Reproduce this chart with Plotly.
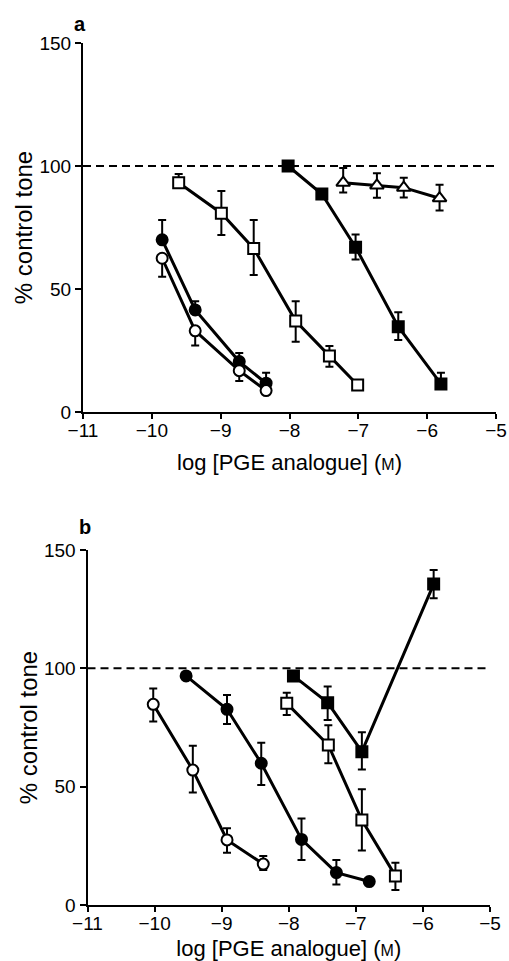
import plotly.graph_objects as go

# ---------------- data ----------------
CONTROL = 100
X_TICKS = [-11, -10, -9, -8, -7, -6, -5]
Y_TICKS = [0, 50, 100, 150]

# Panel a
a_fc_x = [-9.85, -9.37, -8.73, -8.34]
a_fc_y = [70, 41.5, 20.5, 11.7]
a_fc_up = [8, 3.5, 3.5, 4.3]
a_fc_dn = [0, 0, 0, 0]

a_oc_x = [-9.85, -9.37, -8.73, -8.34]
a_oc_y = [62.5, 33, 16.8, 8.7]
a_oc_up = [0, 0, 0, 0]
a_oc_dn = [7.5, 6, 4.2, 0]

a_os_x = [-9.61, -8.99, -8.52, -7.91, -7.42, -7.01]
a_os_y = [93.2, 80.8, 66.5, 37, 22.8, 11]
a_os_up = [3.5, 9, 11.5, 8, 4, 0]
a_os_dn = [0, 8.8, 10.8, 8.4, 4.4, 0]

a_fs_x = [-8.02, -7.53, -7.04, -6.42, -5.8]
a_fs_y = [100, 88.6, 67, 34.7, 11.4]
a_fs_up = [0, 0, 5.2, 5.8, 4.6]
a_fs_dn = [0, 0, 5, 5.4, 1.5]

a_tr_x = [-7.22, -6.73, -6.34, -5.82]
a_tr_y = [93.2, 92.1, 91.2, 86.9]
a_tr_up = [6, 5, 4, 5.5]
a_tr_dn = [4, 5, 4, 5]

# Panel b
b_oc_x = [-10.02, -9.43, -8.92, -8.38]
b_oc_y = [84.8, 57, 27.5, 17.3]
b_oc_up = [6.7, 10.3, 4.9, 3.4]
b_oc_dn = [7.3, 9.5, 5.4, 2.5]

b_fc_x = [-9.53, -8.92, -8.41, -7.81, -7.29, -6.8]
b_fc_y = [96.8, 82.7, 59.9, 27.7, 13.7, 9.9]
b_fc_up = [0, 6, 8.7, 8.9, 5.3, 0]
b_fc_dn = [0, 6.2, 9.2, 8.7, 5, 0]

b_os_x = [-8.03, -7.41, -6.91, -6.41]
b_os_y = [85.2, 67.6, 35.9, 12.3]
b_os_up = [4.5, 8.4, 13, 5.6]
b_os_dn = [4.9, 7.7, 12.9, 6]

b_fs_x = [-7.93, -7.42, -6.91, -5.84]
b_fs_y = [96.8, 85.5, 64.8, 135.6]
b_fs_up = [0, 6.8, 8.2, 5.9]
b_fs_dn = [0, 7.3, 7.5, 6]

# ---------------- figure ----------------
FONT = "Liberation Sans, Arial, Helvetica, sans-serif"
FW, FH = 509, 961


def fx(p):
    return p / FW


def fy(p):
    return 1 - p / FH


fig = go.Figure()


def add_series(x, y, up, dn, symbol, fill, xa, ya, size=11):
    fig.add_trace(go.Scatter(
        x=x, y=y, mode="lines+markers",
        xaxis=xa, yaxis=ya,
        line=dict(color="black", width=3),
        marker=dict(symbol=symbol, size=size, color=fill,
                    line=dict(color="black", width=2)),
        error_y=dict(type="data", symmetric=False, array=up, arrayminus=dn,
                     color="black", thickness=2, width=4),
        showlegend=False, cliponaxis=False,
    ))


# panel a (x, y)
add_series(a_fc_x, a_fc_y, a_fc_up, a_fc_dn, "circle", "black", "x", "y")
add_series(a_oc_x, a_oc_y, a_oc_up, a_oc_dn, "circle", "white", "x", "y")
add_series(a_os_x, a_os_y, a_os_up, a_os_dn, "square", "white", "x", "y")
add_series(a_fs_x, a_fs_y, a_fs_up, a_fs_dn, "square", "black", "x", "y")
add_series(a_tr_x, a_tr_y, a_tr_up, a_tr_dn, "triangle-up", "white", "x", "y", size=12)

# panel b (x2, y2)
add_series(b_oc_x, b_oc_y, b_oc_up, b_oc_dn, "circle", "white", "x2", "y2")
add_series(b_fc_x, b_fc_y, b_fc_up, b_fc_dn, "circle", "black", "x2", "y2")
add_series(b_os_x, b_os_y, b_os_up, b_os_dn, "square", "white", "x2", "y2")
add_series(b_fs_x, b_fs_y, b_fs_up, b_fs_dn, "square", "black", "x2", "y2")

xtitle = "log [PGE analogue] (<span style='font-size:16px'>M</span>)"
common_x = dict(range=[X_TICKS[0], X_TICKS[-1]], tickvals=X_TICKS,
                showline=True, linewidth=2, linecolor="black",
                ticks="outside", ticklen=5, tickwidth=2, tickcolor="black",
                showgrid=False, zeroline=False, automargin=False,
                ticklabeloverflow="allow", ticklabelstandoff=-5,
                tickfont=dict(family=FONT, size=19, color="black"))
common_y = dict(range=[Y_TICKS[0], Y_TICKS[-1]], tickvals=Y_TICKS,
                showline=True, linewidth=2, linecolor="black",
                ticks="outside", ticklen=6, tickwidth=2, tickcolor="black",
                showgrid=False, zeroline=False, automargin=False,
                tickfont=dict(family=FONT, size=19, color="black"))

fig.update_layout(
    width=FW, height=FH,
    margin=dict(l=0, r=0, t=0, b=0),
    paper_bgcolor="white", plot_bgcolor="white",
    font=dict(family=FONT, color="black"),
    xaxis=dict(domain=[fx(83), fx(496)], anchor="y",
               title=dict(text=xtitle, font=dict(size=22)),
               **common_x),
    yaxis=dict(domain=[fy(412), fy(43)], anchor="x",
               title=dict(text="% control tone", font=dict(size=24), standoff=0),
               **common_y),
    xaxis2=dict(domain=[fx(87.5), fx(490)], anchor="y2",
                title=dict(text=xtitle, font=dict(size=22)),
                **common_x),
    yaxis2=dict(domain=[fy(905), fy(550)], anchor="x2",
                title=dict(text="% control tone", font=dict(size=24), standoff=0),
                **common_y),
    shapes=[
        dict(type="line", xref="x", yref="y", x0=X_TICKS[0], x1=X_TICKS[-1],
             y0=CONTROL, y1=CONTROL, line=dict(color="black", width=2, dash="8px,5px"),
             layer="below"),
        dict(type="line", xref="x2", yref="y2", x0=X_TICKS[0], x1=X_TICKS[-1],
             y0=CONTROL, y1=CONTROL, line=dict(color="black", width=2, dash="8px,5px"),
             layer="below"),
    ],
    annotations=[
        dict(text="<b>a</b>", xref="paper", yref="paper", x=fx(80), y=fy(24),
             xanchor="center", yanchor="middle",
             showarrow=False, font=dict(size=20, family=FONT)),
        dict(text="<b>b</b>", xref="paper", yref="paper", x=fx(85), y=fy(527),
             xanchor="center", yanchor="middle",
             showarrow=False, font=dict(size=20, family=FONT)),
    ],
)

# remove the page's default 8px body margin so the figure fills the window
fig.write_html("out.html",
               config={"displayModeBar": False},
               post_script="document.body.style.margin='0px';"
                           "document.body.style.overflow='hidden';")
